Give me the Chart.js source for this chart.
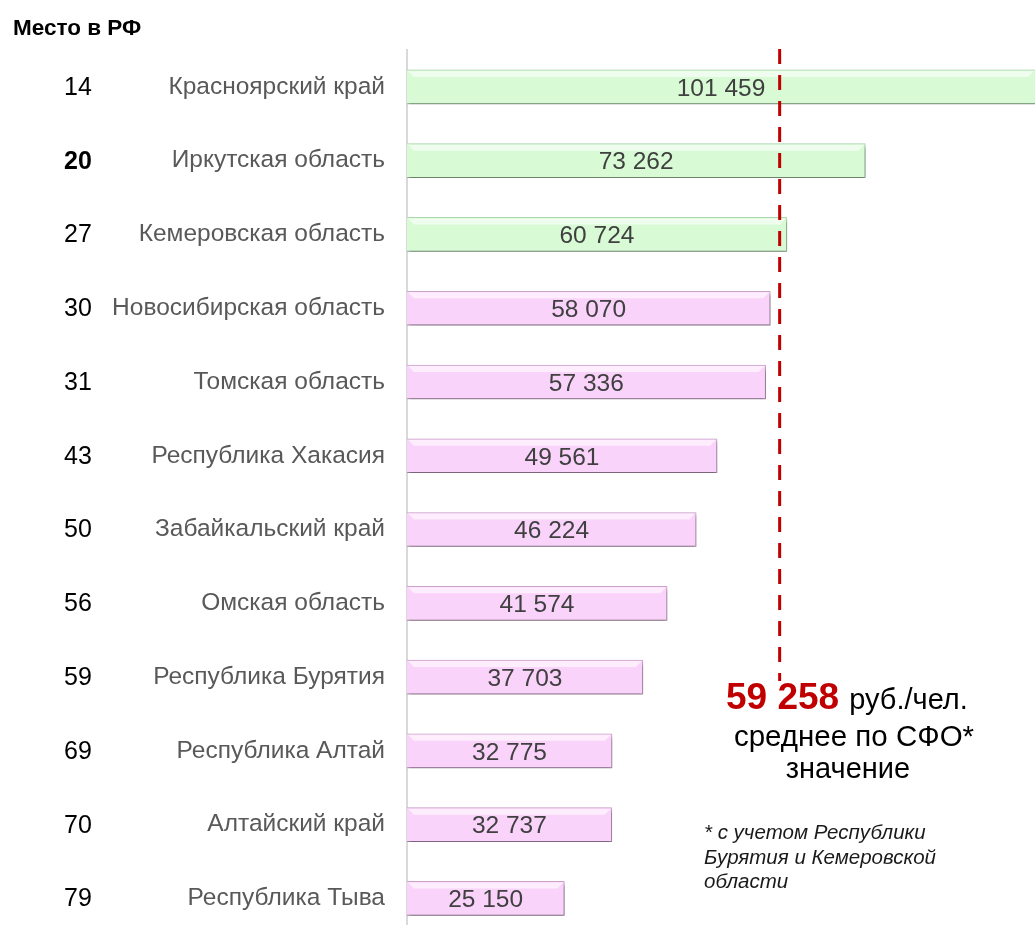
<!DOCTYPE html>
<html>
<head>
<meta charset="utf-8">
<script src="https://cdn.jsdelivr.net/npm/chart.js@4.4.1/dist/chart.umd.min.js"></script>
<style>
  html, body { margin: 0; padding: 0; background: #fff; overflow: hidden; }
  #Grafico1 { display: block; }
</style>
</head>
<body>
<canvas id="Grafico1" width="1035" height="972"></canvas>
<script>
// данные
const regiones = ['Красноярский край', 'Иркутская область', 'Кемеровская область', 'Новосибирская область',
  'Томская область', 'Республика Хакасия', 'Забайкальский край', 'Омская область',
  'Республика Бурятия', 'Республика Алтай', 'Алтайский край', 'Республика Тыва'];
const valores = [101459, 73262, 60724, 58070, 57336, 49561, 46224, 41574, 37703, 32775, 32737, 25150];
const lugares = ['14', '20', '27', '30', '31', '43', '50', '56', '59', '69', '70', '79'];
const lugarResaltado = '20';
const promedio = 59258;
const ejeMax = 100400;

const verde = '#d8fbd6', verdeBorde = '#b0dcb0';
const rosa = '#fad3fa', rosaBorde = '#cfa6cf';
const fuente = '"Liberation Sans", Arial, sans-serif';

function fmt(n){
    return String(n).replace(/\B(?=(\d{3})+(?!\d))/g, ' ');
}

let sombra = {
    id: 'sombra',
    beforeDatasetDraw(chart){
        let ctx = chart.ctx;
        ctx.save();
        ctx.shadowColor = 'rgba(0,0,0,0.45)';
        ctx.shadowOffsetX = 1;
        ctx.shadowOffsetY = 3;
        ctx.shadowBlur = 4;
    },
    afterDatasetDraw(chart){
        chart.ctx.restore();
    }
};

let extras = {
    id: 'extras',
    afterDatasetsDraw(chart){
        let ctx = chart.ctx;
        let area = chart.chartArea;
        let y = chart.scales.y;
        let x = chart.scales.x;
        ctx.save();
        // brillo superior de las barras
        chart.getDatasetMeta(0).data.forEach((bar) => {
            let right = Math.min(bar.x, area.right);
            let top = bar.y - bar.height / 2;
            ctx.fillStyle = 'rgba(255,255,255,0.6)';
            ctx.beginPath();
            ctx.moveTo(bar.base + 1, top + 1);
            ctx.lineTo(right - 1, top + 1);
            ctx.lineTo(right - 7, top + 7);
            ctx.lineTo(bar.base + 7, top + 7);
            ctx.closePath();
            ctx.fill();
        });
        // valores en las barras
        ctx.font = '24.5px ' + fuente;
        ctx.fillStyle = '#404040';
        ctx.textAlign = 'center';
        ctx.textBaseline = 'middle';
        chart.getDatasetMeta(0).data.forEach((bar, i) => {
            let right = Math.min(bar.x, area.right);
            ctx.fillText(fmt(valores[i]), (bar.base + right) / 2, bar.y + 2);
        });
        // lugares
        lugares.forEach((l, i) => {
            ctx.font = (l === lugarResaltado ? 'bold ' : '') + '25px ' + fuente;
            ctx.fillStyle = '#000';
            ctx.fillText(l, 78, y.getPixelForValue(i) + 1);
        });
        ctx.textAlign = 'left';
        ctx.font = 'bold 22.5px ' + fuente;
        ctx.fillText('Место в РФ', 13, 29);
        // linea del promedio
        let px = x.getPixelForValue(promedio) + 2;
        ctx.strokeStyle = '#c00000';
        ctx.lineWidth = 3;
        ctx.setLineDash([15, 11]);
        ctx.beginPath();
        ctx.moveTo(px, 49);
        ctx.lineTo(px, 681);
        ctx.stroke();
        ctx.setLineDash([]);
        // texto del promedio
        ctx.textBaseline = 'alphabetic';
        ctx.font = 'bold 37px ' + fuente;
        ctx.fillStyle = '#c00000';
        ctx.fillText(fmt(promedio), 726, 709);
        let w = ctx.measureText(fmt(promedio)).width;
        ctx.font = '29px ' + fuente;
        ctx.fillStyle = '#000';
        ctx.fillText('руб./чел.', 726 + w + 10, 709);
        ctx.textAlign = 'center';
        ctx.font = '29.5px ' + fuente;
        ctx.fillText('среднее по СФО*', 854, 746);
        ctx.font = '29px ' + fuente;
        ctx.fillText('значение', 848, 778);
        ctx.textAlign = 'left';
        ctx.font = 'italic 20.5px ' + fuente;
        ctx.fillStyle = '#1a1a1a';
        ctx.fillText('* с учетом Республики', 704, 839);
        ctx.fillText('Бурятия и Кемеровской', 704, 864);
        ctx.fillText('области', 704, 888);
        ctx.restore();
    }
};

let CanvasG1 = document.getElementById('Grafico1').getContext('2d');
let G1 = new Chart(CanvasG1, {
    type: 'bar',
    data: {
        labels: regiones,
        datasets: [{
            data: valores,
            backgroundColor: valores.map((v, i) => i < 3 ? verde : rosa),
            borderColor: valores.map((v, i) => i < 3 ? verdeBorde : rosaBorde),
            borderWidth: 1,
            borderSkipped: 'start',
            barThickness: 34
        }]
    },
    options: {
        indexAxis: 'y',
        responsive: false,
        animation: false,
        layout: { padding: { top: 50, right: 0, bottom: 2, left: 0 } },
        plugins: { legend: { display: false }, tooltip: { enabled: false } },
        scales: {
            x: { display: false, min: 0, max: ejeMax },
            y: {
                afterFit(s){ s.width = 407; },
                grid: { display: false, drawTicks: false },
                border: { display: true, color: '#d9d9d9', width: 2 },
                ticks: {
                    padding: 22,
                    color: '#595959',
                    font: { family: fuente, size: 24.5 }
                }
            }
        }
    },
    plugins: [sombra, extras]
});
</script>
</body>
</html>
